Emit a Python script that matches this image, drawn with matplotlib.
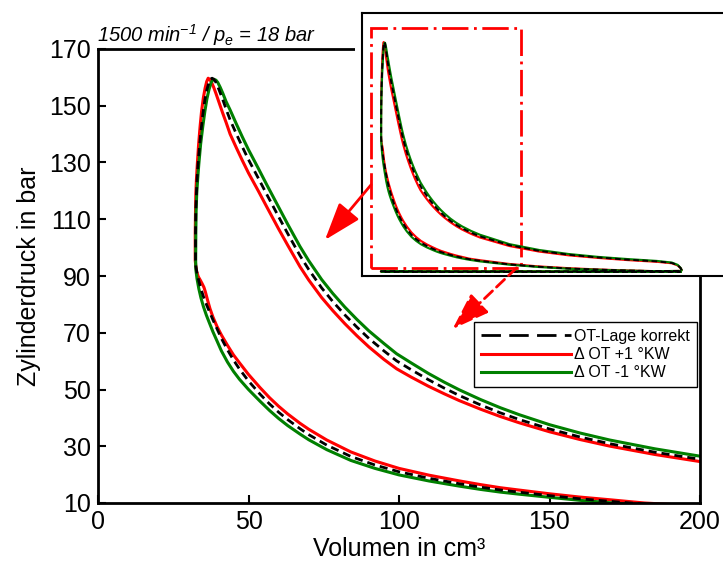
import matplotlib.pyplot as plt
from matplotlib.lines import Line2D
from matplotlib.patches import Rectangle, ConnectionPatch

plt.rcParams['font.family'] = ['Liberation Sans', 'DejaVu Sans']
plt.rcParams['mathtext.fontset'] = 'custom'
plt.rcParams['mathtext.rm'] = 'Liberation Sans:italic'
plt.rcParams['mathtext.it'] = 'Liberation Sans:italic'
plt.rcParams['mathtext.default'] = 'it'

# p-V data (volume in cm3, pressure in bar)
# each curve: compression (BDC -> peak, incl. combustion rise), expansion (peak -> BDC)

# OT-Lage korrekt
v_comp_ref = [540, 500, 450, 400, 350, 300, 250, 200, 185, 177, 170, 160, 150, 140, 133.6, 127, 120,
              110, 100, 92, 84, 76, 70, 67.1, 63, 60, 57, 53.8, 50, 47, 45, 43, 41, 39.5, 38.2, 37,
              36, 35, 34.2, 33.5, 32.9, 32.5, 32.4,
              32.4, 32.5, 32.7, 32.9, 33.2, 33.7, 34.3, 34.9, 35.5, 36.2, 36.9, 37.4, 37.9]
p_comp_ref = [1.0, 1.3, 1.8, 2.4, 3.2, 4.4, 6.0, 8.5, 9.4, 10.0, 10.6, 11.5, 12.6, 13.8, 14.6, 15.6, 16.8,
              18.7, 21.0, 23.4, 26.4, 30.4, 34.1, 36.2, 39.4, 42.0, 44.9, 48.4, 53.0, 57.2, 60.4, 64.0,
              68.0, 71.5, 74.5, 77.5, 80.0, 82.8, 85.5, 88.2, 91.0, 93.5, 95.5,
              105, 113, 119, 124, 129, 135.5, 142, 147.5, 152, 155.8, 158.3, 159.4, 159.7]
v_exp_ref = [38.4, 39.0, 39.7, 40.5, 41.5, 42.6, 43.9, 46, 48, 50, 53.3, 56, 60, 63, 67.1, 70, 74.3, 78,
             82, 86, 90, 95, 99.2, 104, 109.7, 115, 120, 127, 133.6, 140, 150, 160, 170, 185, 200,
             250, 300, 350, 400, 450, 500, 525, 535, 540, 542]
p_exp_ref = [159.4, 158.6, 157.0, 154.8, 152.0, 148.7, 145.0, 140.0, 135.4, 131.0, 124.4, 118.9, 110.9,
             105.0, 97.2, 92.3, 85.8, 81.0, 76.3, 72.0, 68.0, 63.6, 60.1, 57.0, 53.5, 50.5, 47.9, 44.6,
             41.8, 39.4, 36.1, 33.3, 30.9, 27.9, 25.4,
             19.3, 15.4, 12.7, 10.8, 9.3, 8.1, 7.0, 5.5, 3.5, 2.0]

# Delta OT +1 KW
v_comp_plus = [540, 500, 450, 400, 350, 300, 250, 200, 181.6, 170, 160, 150, 140, 133.6, 127, 120, 110,
               100, 92, 84, 76, 70, 67.1, 63, 60, 57, 53.8, 50, 47, 45, 43, 41, 39.5, 38.2, 37.2, 36.4,
               35.7, 35.2, 34.6, 34.0, 33.3, 32.8, 32.5, 32.3,
               32.3, 32.4, 32.5, 32.7, 33.0, 33.4, 33.9, 34.4, 35.0, 35.6, 36.1, 36.6]
p_comp_plus = [1.0, 1.3, 1.8, 2.5, 3.4, 4.6, 6.3, 8.9, 10.0, 11.15, 12.1, 13.25, 14.55, 15.4, 16.5, 17.8,
               19.8, 22.2, 24.8, 28.0, 32.2, 36.0, 38.1, 41.4, 44.1, 47.1, 50.7, 55.3, 59.4, 62.2, 65.6,
               69.2, 72.3, 75.5, 78.5, 81.5, 84.3, 86.0, 87.3, 88.5, 89.8, 91.5, 93.5, 95.5,
               105, 113, 119, 124, 129.5, 136, 142.5, 148, 152.8, 156.3, 158.5, 159.7]
v_exp_plus = [37.1, 37.7, 38.4, 39.2, 40.2, 41.4, 42.6, 43.9, 46, 48, 50, 53.3, 56, 60, 63, 67.1, 70,
              74.3, 78, 82, 86, 90, 95, 99.2, 104, 109.7, 115, 120, 127, 133.6, 140, 150, 160, 170, 185,
              200, 250, 300, 350, 400, 450, 500, 525, 535, 540, 542]
p_exp_plus = [159.3, 158.3, 156.6, 154.3, 151.2, 147.5, 144.0, 140.0, 135.1, 130.6, 126.3, 119.9, 114.5,
              106.6, 100.9, 93.3, 88.6, 82.4, 77.8, 73.2, 68.95, 65.0, 60.6, 57.3, 54.4, 51.2, 48.5, 46.1,
              43.1, 40.5, 38.25, 35.1, 32.4, 30.05, 27.1, 24.6,
              18.7, 14.9, 12.3, 10.5, 9.0, 7.8, 6.8, 5.3, 3.4, 2.0]

# Delta OT -1 KW
v_comp_minus = [540, 500, 450, 400, 350, 300, 250, 200, 185, 177, 170, 160, 150, 140, 133.6, 127, 120,
                110, 100, 92, 84, 76, 70, 67.1, 63, 60, 57, 53.8, 50, 47, 45, 43, 41, 39.5, 38.2, 37,
                36, 35, 34.2, 33.5, 32.9, 32.5, 32.45,
                32.5, 32.6, 32.8, 33.1, 33.5, 34.1, 34.8, 35.5, 36.2, 36.9, 37.6, 38.1, 38.6]
p_comp_minus = [1.0, 1.3, 1.7, 2.3, 3.0, 4.2, 5.8, 8.1, 9.0, 9.55, 10.1, 10.95, 12.0, 13.1, 13.85, 14.8,
                15.95, 17.75, 19.9, 22.2, 25.0, 28.8, 32.3, 34.3, 37.3, 39.8, 42.6, 45.9, 50.0, 53.6,
                56.4, 59.7, 63.6, 67.2, 70.3, 73.5, 76.2, 79.3, 82.3, 85.5, 89.0, 92.3, 95.5,
                105, 113, 119, 124, 129.5, 136.5, 142.6, 148, 152.5, 155.8, 158.2, 159.1, 159.3]
v_exp_minus = [39.2, 39.8, 40.6, 41.5, 42.5, 43.9, 46, 48, 50, 53.3, 56, 60, 63, 67.1, 70, 74.3, 78, 82,
               86, 90, 95, 99.2, 104, 109.7, 115, 120, 127, 133.6, 140, 150, 160, 170, 185, 200,
               250, 300, 350, 400, 450, 500, 525, 535, 540, 542]
p_exp_minus = [159.0, 158.2, 156.5, 154.3, 151.6, 148.5, 143.5, 138.9, 134.5, 127.85, 122.3, 114.3,
               108.3, 100.4, 95.4, 88.75, 83.85, 79.05, 74.7, 70.65, 66.2, 62.6, 59.4, 55.7, 52.6, 49.9,
               46.5, 43.6, 41.1, 37.6, 34.7, 32.2, 29.1, 26.5,
               20.0, 16.0, 13.2, 11.2, 9.7, 8.4, 7.3, 5.7, 3.6, 2.0]

# gas exchange loop (same for all three)
v_gas = [540, 500, 300, 100, 40, 32, 33, 100, 300, 500, 540]
p_gas = [1.5, 1.3, 1.2, 1.2, 1.3, 1.2, 0.9, 0.8, 0.8, 0.8, 1.0]

labels = ['OT-Lage korrekt', 'Δ OT +1 °KW', 'Δ OT -1 °KW']
x_ticks = [0, 50, 100, 150, 200]
y_ticks = [10, 30, 50, 70, 90, 110, 130, 150, 170]

curves = [
    (v_comp_plus + v_exp_plus + v_gas, p_comp_plus + p_exp_plus + p_gas,
     dict(color='#ff0000', lw=2.2)),
    (v_comp_minus + v_exp_minus + v_gas, p_comp_minus + p_exp_minus + p_gas,
     dict(color='#008000', lw=2.2)),
    (v_comp_ref + v_exp_ref + v_gas, p_comp_ref + p_exp_ref + p_gas,
     dict(color='black', lw=2.0, dashes=(2.9, 1.8))),
]

fig = plt.figure(figsize=(7.23, 5.65), dpi=100)
ax = fig.add_axes([98 / 723, 1 - 503 / 565, 602 / 723, 454 / 565])

for v, p, kw in curves:
    ax.plot(v, p, solid_joinstyle='round', dash_joinstyle='round', **kw)

ax.set_xlim(0, 200)
ax.set_ylim(10, 170)
ax.set_xticks(x_ticks)
ax.set_yticks(y_ticks)
ax.tick_params(direction='in', length=6, width=1.5, labelsize=18, pad=5)
for s in ax.spines.values():
    s.set_linewidth(2.0)
ax.set_xlabel('Volumen in cm³', fontsize=18, labelpad=2)
ax.set_ylabel('Zylinderdruck in bar', fontsize=18, labelpad=6)

# legend handles (the dashed one uses longer dashes, as in the picture)
leg_handles = [Line2D([], [], color='black', lw=2.0, dashes=(7, 3)),
               Line2D([], [], color='#ff0000', lw=2.2),
               Line2D([], [], color='#008000', lw=2.2)]
ax.legend(leg_handles, labels, loc='upper left',
          bbox_to_anchor=(0.6246, 0.3993), borderaxespad=0, fontsize=11.5,
          handlelength=5.6, handletextpad=0.2, labelspacing=0.2, borderpad=0.45,
          fancybox=False, framealpha=1, edgecolor='black')

fig.text(97 / 723, 1 - 42 / 565, r'1500 min$^{-1}$ / p$_e$ = 18 bar',
         fontsize=14.5, style='italic', va='baseline')

# white margin around the inset picture
fig.add_artist(Rectangle((355 / 723, 1 - 277 / 565), 0.6, 0.5, transform=fig.transFigure,
                         facecolor='white', edgecolor='none', zorder=2))

# inset with the full cycle
axin = fig.add_axes([362 / 723, 1 - 275.7 / 565, 377.6 / 723, 263 / 565], zorder=3)
for v, p, kw in curves:
    kw2 = dict(kw)
    kw2['lw'] = kw['lw'] * 0.7
    axin.plot(v, p, solid_joinstyle='round', **kw2)
axin.set_xlim(0, 640)
axin.set_ylim(-1.8, 180)
axin.set_xticks([])
axin.set_yticks([])
for s in axin.spines.values():
    s.set_linewidth(1.5)
axin.add_patch(Rectangle((15.3, 3.6), 254.2, 165.9, facecolor='none', edgecolor='red',
                         lw=2, linestyle=(0, (9.5, 2, 1, 2))))

arrow = '-|>,head_length=1.45,head_width=0.5'
fig.add_artist(ConnectionPatch(xyA=(15.3, 61), coordsA=axin.transData,
                               xyB=(75.4, 102.7), coordsB=ax.transData,
                               arrowstyle=arrow, mutation_scale=16, color='red',
                               lw=2, zorder=4))
fig.add_artist(ConnectionPatch(xyA=(262, 3.6), coordsA=axin.transData,
                               xyB=(117.8, 71.3), coordsB=ax.transData,
                               arrowstyle=arrow, mutation_scale=16, color='red',
                               lw=2, linestyle=(0, (4, 2)), zorder=4))

fig.savefig('out.png', dpi=100)
